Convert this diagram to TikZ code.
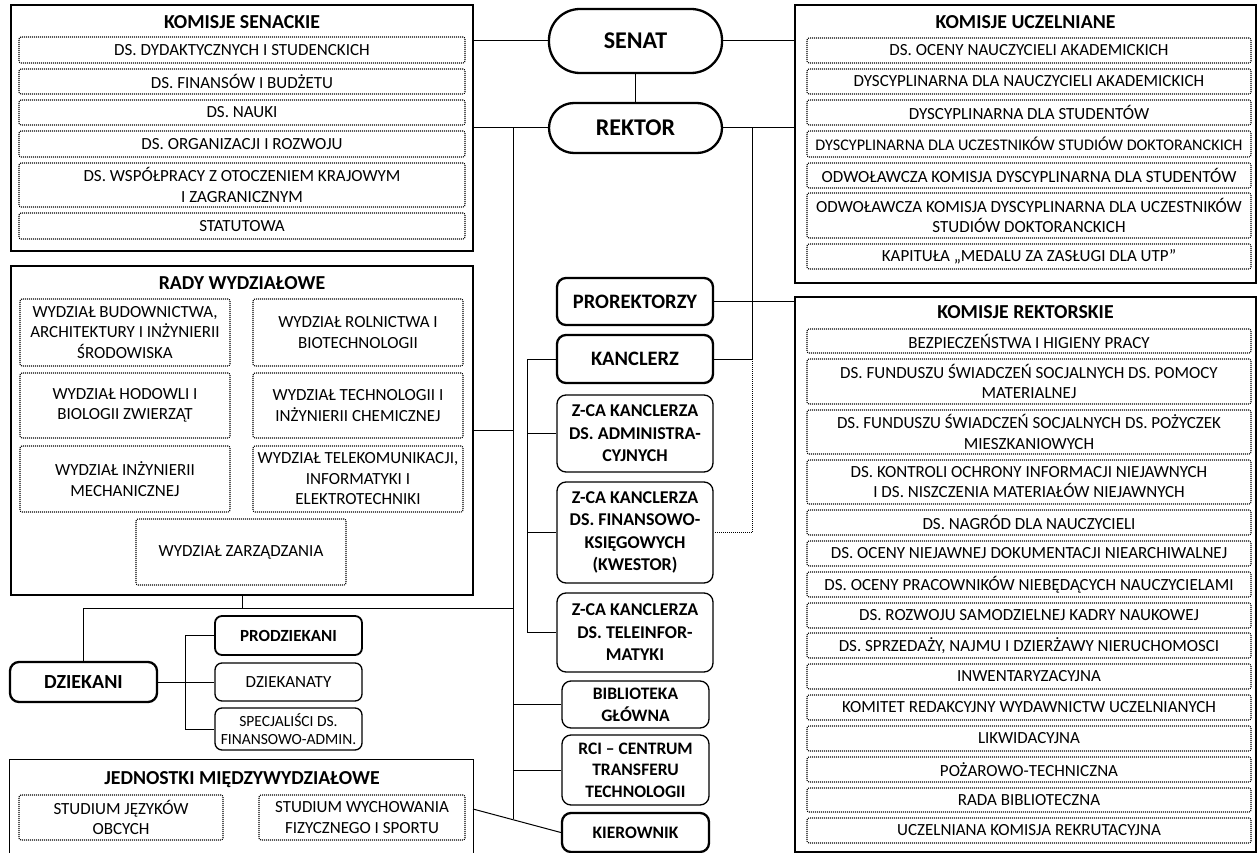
\documentclass[tikz,border=0pt]{standalone}
\usepackage{fontspec}
\setmainfont{Carlito}
\newcommand{\regf}{\fontsize{17}{20.5}\selectfont}
\newcommand{\narrowf}{\fontsize{16.2}{20.5}\selectfont}
\newcommand{\smregf}{\fontsize{15.5}{18.5}\selectfont}
\newcommand{\cbf}{\bfseries\fontsize{18}{22.5}\selectfont}
\newcommand{\cbbf}{\bfseries\fontsize{20.5}{24}\selectfont}
\newcommand{\titlef}{\bfseries\fontsize{19.8}{23}\selectfont}
\newcommand{\bigbf}{\bfseries\fontsize{24}{28}\selectfont}
\newcommand{\dzbf}{\bfseries\fontsize{20}{24}\selectfont}
\begin{document}
\begin{tikzpicture}[x=1pt,y=-1pt,
  outerbox/.style={draw, line width=2pt, inner sep=0pt},
  thinouter/.style={line width=1pt},
  titletext/.style={inner sep=0pt, font=\titlef},
  dbox/.style={draw, line width=1.1pt, dash pattern=on 1pt off 1pt, rounded corners=2pt, inner sep=0pt, align=center, font=\regf},
  ksrow/.style={dbox, minimum width=446pt, minimum height=26pt},
  kurow/.style={dbox, minimum width=444pt, minimum height=25pt},
  wrow/.style={dbox, minimum width=210pt},
  cbox/.style={draw, rounded corners=9pt, inner sep=0pt, align=center, font=\cbf, minimum width=156pt},
  thickb/.style={line width=2.3pt},
  thinb/.style={line width=1.3pt},
  pill/.style={draw, line width=2.3pt, rounded corners=25pt, inner sep=0pt, font=\bigbf, minimum width=173pt},
  conn/.style={line width=1pt},
  dotconn/.style={line width=0.7pt, dash pattern=on 0.8pt off 1.2pt}
]
\useasboundingbox (0,0) rectangle (1258,853);

% ---------- KOMISJE SENACKIE ----------
\node[outerbox, minimum width=462pt, minimum height=246pt] (ks) at (242,128) {};
\node[titletext] (kst) at (242,22) {KOMISJE SENACKIE};
\node[ksrow] (ks1) at (242,50) {DS. DYDAKTYCZNYCH I STUDENCKICH};
\node[ksrow, minimum height=25pt] (ks2) at (242,81.5) {DS. FINANSÓW I BUDŻETU};
\node[ksrow, minimum height=25pt] (ks3) at (242,112.5) {DS. NAUKI};
\node[ksrow] (ks4) at (242,144) {DS. ORGANIZACJI I ROZWOJU};
\node[ksrow, minimum height=44pt] (ks5) at (242,185) {DS. WSPÓŁPRACY Z OTOCZENIEM KRAJOWYM\\I ZAGRANICZNYM};
\node[ksrow] (ks6) at (242,226) {STATUTOWA};

% ---------- KOMISJE UCZELNIANE ----------
\node[outerbox, minimum width=461pt, minimum height=278pt] (ku) at (1025.5,144) {};
\node[titletext] (kut) at (1025.5,22) {KOMISJE UCZELNIANE};
\node[kurow] (ku1) at (1029,50.5) {DS. OCENY NAUCZYCIELI AKADEMICKICH};
\node[kurow] (ku2) at (1029,81.5) {DYSCYPLINARNA DLA NAUCZYCIELI AKADEMICKICH};
\node[kurow] (ku3) at (1029,112.5) {DYSCYPLINARNA DLA STUDENTÓW};
\node[kurow, minimum height=26pt, font=\narrowf] (ku4) at (1029,144) {DYSCYPLINARNA DLA UCZESTNIKÓW STUDIÓW DOKTORANCKICH};
\node[kurow] (ku5) at (1029,175.5) {ODWOŁAWCZA KOMISJA DYSCYPLINARNA DLA STUDENTÓW};
\node[kurow, minimum height=45pt] (ku6) at (1029,215.5) {ODWOŁAWCZA KOMISJA DYSCYPLINARNA DLA UCZESTNIKÓW\\STUDIÓW DOKTORANCKICH};
\node[kurow] (ku7) at (1029,256.5) {KAPITUŁA „MEDALU ZA ZASŁUGI DLA UTP”};

% ---------- KOMISJE REKTORSKIE ----------
\node[outerbox, minimum width=461pt, minimum height=555pt] (kr) at (1025.5,574) {};
\node[titletext] (krt) at (1025.5,312) {KOMISJE REKTORSKIE};
\node[kurow, minimum height=24pt] (kr1) at (1029,341) {BEZPIECZEŃSTWA I HIGIENY PRACY};
\node[kurow, minimum height=45pt] (kr2) at (1029,381.5) {DS. FUNDUSZU ŚWIADCZEŃ SOCJALNYCH DS. POMOCY\\MATERIALNEJ};
\node[kurow, minimum height=44pt] (kr3) at (1029,432) {DS. FUNDUSZU ŚWIADCZEŃ SOCJALNYCH DS. POŻYCZEK\\MIESZKANIOWYCH};
\node[kurow, minimum height=44pt] (kr4) at (1029,482) {DS. KONTROLI OCHRONY INFORMACJI NIEJAWNYCH\\I DS. NISZCZENIA MATERIAŁÓW NIEJAWNYCH};
\node[kurow] (kr5) at (1029,522.5) {DS. NAGRÓD DLA NAUCZYCIELI};
\node[kurow] (kr6) at (1029,553.5) {DS. OCENY NIEJAWNEJ DOKUMENTACJI NIEARCHIWALNEJ};
\node[kurow] (kr7) at (1029,584.5) {DS. OCENY PRACOWNIKÓW NIEBĘDĄCYCH NAUCZYCIELAMI};
\node[kurow] (kr8) at (1029,615.5) {DS. ROZWOJU SAMODZIELNEJ KADRY NAUKOWEJ};
\node[kurow] (kr9) at (1029,645.5) {DS. SPRZEDAŻY, NAJMU I DZIERŻAWY NIERUCHOMOSCI};
\node[kurow] (kr10) at (1029,676.5) {INWENTARYZACYJNA};
\node[kurow] (kr11) at (1029,707.5) {KOMITET REDAKCYJNY WYDAWNICTW UCZELNIANYCH};
\node[kurow] (kr12) at (1029,738.5) {LIKWIDACYJNA};
\node[kurow] (kr13) at (1029,769.5) {POŻAROWO-TECHNICZNA};
\node[kurow, minimum height=24pt] (kr14) at (1029,800) {RADA BIBLIOTECZNA};
\node[kurow] (kr15) at (1029,830.5) {UCZELNIANA KOMISJA REKRUTACYJNA};

% ---------- RADY WYDZIAŁOWE ----------
\node[outerbox, minimum width=462pt, minimum height=329pt] (rw) at (242,430.5) {};
\node[titletext] (rwt) at (242,283) {RADY WYDZIAŁOWE};
\node[wrow, minimum height=67pt] (w1) at (125,332.5) {WYDZIAŁ BUDOWNICTWA,\\ARCHITEKTURY I INŻYNIERII\\ŚRODOWISKA};
\node[wrow, minimum height=67pt] (w2) at (358,332.5) {WYDZIAŁ ROLNICTWA I\\BIOTECHNOLOGII};
\node[wrow, minimum height=65pt] (w3) at (125,405.5) {WYDZIAŁ HODOWLI I\\BIOLOGII ZWIERZĄT};
\node[wrow, minimum height=65pt] (w4) at (358,405.5) {WYDZIAŁ TECHNOLOGII I\\INŻYNIERII CHEMICZNEJ};
\node[wrow, minimum height=66pt] (w5) at (125,479) {WYDZIAŁ INŻYNIERII\\MECHANICZNEJ};
\node[wrow, minimum height=66pt] (w6) at (358,479) {WYDZIAŁ TELEKOMUNIKACJI,\\INFORMATYKI I\\ELEKTROTECHNIKI};
\node[wrow, minimum height=66pt] (w7) at (241,552) {WYDZIAŁ ZARZĄDZANIA};

% ---------- SENAT / REKTOR ----------
\node[pill, minimum height=64pt, rounded corners=31pt] (senat) at (635.5,41) {SENAT};
\node[pill, minimum height=50pt] (rektor) at (635.5,128) {REKTOR};

% ---------- central column ----------
\node[cbox, thickb, font=\cbbf, minimum height=47pt] (pror) at (635,301.5) {PROREKTORZY};
\node[cbox, thickb, font=\cbbf, minimum height=48pt] (kanc) at (635,359) {KANCLERZ};
\node[cbox, thinb, minimum height=77pt] (zadm) at (635,433.5) {Z-CA KANCLERZA\\DS. ADMINISTRA-\\CYJNYCH};
\node[cbox, thinb, minimum height=101pt] (zfin) at (635,532.5) {Z-CA KANCLERZA\\DS. FINANSOWO-\\KSIĘGOWYCH\\(KWESTOR)};
\node[cbox, thinb, minimum height=79pt] (ztel) at (635,632.5) {Z-CA KANCLERZA\\DS. TELEINFOR-\\MATYKI};
\node[cbox, thinb, font=\bfseries\fontsize{17.5}{22}\selectfont, minimum width=147pt, minimum height=47pt] (bib) at (635.5,704.5) {BIBLIOTEKA\\GŁÓWNA};
\node[cbox, thinb, font=\bfseries\fontsize{17.5}{21.5}\selectfont, minimum width=147pt, minimum height=70pt] (rci) at (635.5,770) {RCI – CENTRUM\\TRANSFERU\\TECHNOLOGII};
\node[cbox, thickb, font=\bfseries\fontsize{17.5}{22}\selectfont, minimum width=147pt, minimum height=39pt] (kier) at (635.5,832.5) {KIEROWNIK};

% ---------- DZIEKANI ----------
\node[cbox, thickb, font=\dzbf, minimum width=147pt, minimum height=40pt] (dziek) at (83.5,682) {DZIEKANI};
\node[cbox, line width=1.8pt, font=\bfseries\fontsize{17}{22}\selectfont, minimum width=147pt, minimum height=39pt, rounded corners=7pt] (prod) at (288.5,635.5) {PRODZIEKANI};
\node[cbox, thinb, font=\regf, minimum width=147pt, minimum height=38pt, rounded corners=7pt] (dkt) at (288.5,682) {DZIEKANATY};
\node[cbox, thinb, font=\smregf, minimum width=147pt, minimum height=42pt, rounded corners=7pt] (spec) at (288.5,729) {SPECJALIŚCI DS.\\FINANSOWO-ADMIN.};

% ---------- JEDNOSTKI MIĘDZYWYDZIAŁOWE ----------
\node[inner sep=0pt, minimum width=463pt, minimum height=93pt] (jm) at (241.5,806.5) {};
\draw[thinouter] (jm.south west) |- (jm.north east) -- (jm.south east);
\node[titletext] (jmt) at (242,780) {JEDNOSTKI MIĘDZYWYDZIAŁOWE};
\node[dbox, minimum width=204pt, minimum height=45pt] (sjo) at (121,817.5) {STUDIUM JĘZYKÓW\\OBCYCH};
\node[dbox, minimum width=206pt, minimum height=45pt] (swf) at (362,817.5) {STUDIUM WYCHOWANIA\\FIZYCZNEGO I SPORTU};

% ---------- connectors ----------
\coordinate (tTop) at (513,128);
\coordinate (tBot) at (513,818.8);
\coordinate (rTop) at (752,128);
\coordinate (kx) at (527,359);
\coordinate (dx) at (185,682);
\coordinate (dj) at (242,608);
\coordinate (jr) at (473,809);

\draw[conn] (senat.west -| ks.east) -- (senat.west);
\draw[conn] (senat.east) -- (senat.east -| ku.west);
\draw[conn] (senat.south) -- (rektor.north);
\draw[conn] (rektor.west -| ks.east) -- (rektor.west);
\draw[conn] (rektor.east) -- (rektor.east -| ku.west);
\draw[conn] (tTop) -- (tBot);
\draw[conn] (rw.east) -- (rw.east -| tTop);
\draw[conn] (rw.south) -- (dj);
\draw[conn] (dziek.north) |- (tTop |- dj);
\draw[conn] (bib.west) -- (bib.west -| tTop);
\draw[conn] (rci.west) -- (rci.west -| tTop);
\draw[conn] (jr) -- (kier.west);
\draw[conn] (rTop) -- (rTop |- kanc.east) -- (kanc.east);
\draw[conn] (pror.east) -- (pror.east -| kr.west);
\draw[dotconn] (rTop |- kanc.east) -- (rTop |- zfin.east) -- (zfin.east);
\draw[conn] (kanc.west) -- (kx) -- (kx |- ztel.west) -- (ztel.west);
\draw[conn] (kx |- zadm.west) -- (zadm.west);
\draw[conn] (kx |- zfin.west) -- (zfin.west);
\draw[conn] (dziek.east) -- (dkt.west);
\draw[conn] (prod.west) -- (dx |- prod.west) -- (dx |- spec.west) -- (spec.west);
\end{tikzpicture}
\end{document}
